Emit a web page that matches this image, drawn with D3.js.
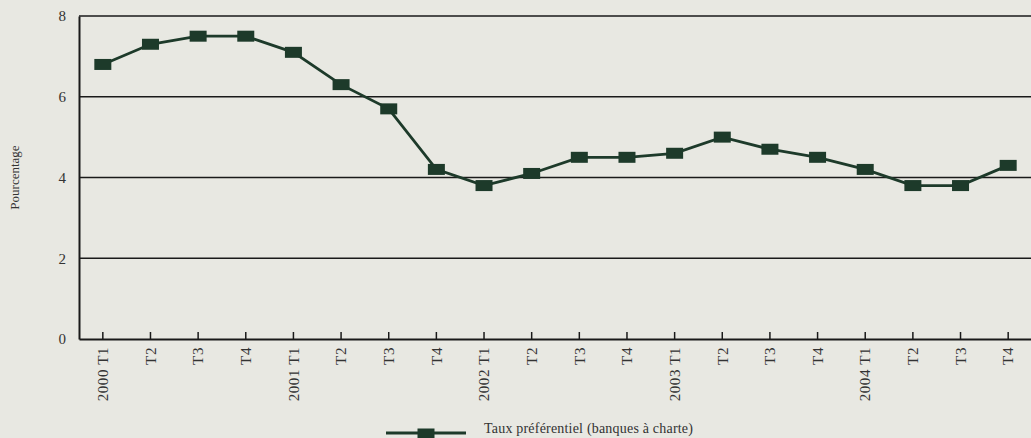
<!DOCTYPE html>
<html><head><meta charset="utf-8">
<script src="https://cdn.jsdelivr.net/npm/d3@7"></script>
<style>
html,body{margin:0;padding:0;background:#e8e8e2;}
svg{display:block;}
</style></head>
<body>
<svg id="chart" width="1031" height="438"></svg>
<script>
const categories = ["2000 T1","T2","T3","T4","2001 T1","T2","T3","T4","2002 T1","T2","T3","T4","2003 T1","T2","T3","T4","2004 T1","T2","T3","T4"];
const values = [6.8,7.3,7.5,7.5,7.1,6.3,5.7,4.2,3.8,4.1,4.5,4.5,4.6,5.0,4.7,4.5,4.2,3.8,3.8,4.3];
const yTicks = [0,2,4,6,8];
const seriesName = "Taux préférentiel (banques à charte)";
const yTitle = "Pourcentage";

const svg = d3.select("#chart");
const W = 1031, H = 438;
const m = {left:79, right:-1, top:16, bottom:99};
const color = "#1d3a2a";
const font = "'Liberation Serif', 'DejaVu Serif', serif";

svg.append("rect").attr("width",W).attr("height",H).attr("fill","#e8e8e2");

const idx = categories.map((d,i)=>i);
const x = d3.scaleBand().domain(idx).range([m.left, W - m.right]);
const y = d3.scaleLinear().domain([0,8]).range([H - m.bottom, m.top]);
const cx = i => x(i) + x.bandwidth()/2;

// gridlines
svg.append("g").selectAll("line").data(yTicks.filter(d=>d>0)).join("line")
  .attr("x1", m.left).attr("x2", W)
  .attr("y1", d=>y(d)).attr("y2", d=>y(d))
  .attr("stroke","#1a1a1a").attr("stroke-width",1.6);

// y axis
const yAxis = d3.axisLeft(y).tickValues(yTicks).tickSize(0).tickPadding(13).tickFormat(d3.format("d"));
const gy = svg.append("g").attr("transform",`translate(${m.left},0)`).call(yAxis);
gy.select(".domain").attr("stroke","#1a1a1a").attr("stroke-width",2);
gy.selectAll("text").attr("font-family",font).attr("font-size",15).attr("fill","#333");

// x axis
const xAxis = d3.axisBottom(x).tickFormat(i=>categories[i]).tickSizeInner(-7).tickSizeOuter(0).tickPadding(8);
const gx = svg.append("g").attr("transform",`translate(0,${y(0)})`).call(xAxis);
gx.select(".domain").attr("stroke","#1a1a1a").attr("stroke-width",2);
gx.selectAll(".tick line").attr("stroke","#1a1a1a").attr("stroke-width",1.5);
gx.selectAll("text")
  .attr("font-family",font).attr("font-size",15).attr("fill","#333")
  .attr("letter-spacing","0.6px")
  .attr("transform","rotate(-90)")
  .attr("text-anchor","end")
  .attr("x",-8).attr("y",0).attr("dy","0.35em");

// y title
svg.append("text").attr("transform",`translate(19,${y(4)}) rotate(-90)`)
  .attr("text-anchor","middle").attr("font-family",font).attr("font-size",13).attr("fill","#333")
  .text(yTitle);

// line
const line = d3.line().x((d,i)=>cx(i)).y(d=>y(d));
svg.append("path").datum(values).attr("d",line)
  .attr("fill","none").attr("stroke",color).attr("stroke-width",2.8);

const mw = 17, mh = 11;
svg.append("g").selectAll("rect").data(values).join("rect")
  .attr("x",(d,i)=>cx(i)-mw/2).attr("y",d=>y(d)-mh/2)
  .attr("width",mw).attr("height",mh).attr("fill",color);

// legend
const lg = svg.append("g");
lg.append("line").attr("x1",386).attr("x2",466).attr("y1",433).attr("y2",433)
  .attr("stroke",color).attr("stroke-width",2.8);
lg.append("rect").attr("x",426-mw/2).attr("y",433-mh/2+1).attr("width",mw).attr("height",mh).attr("fill",color);
lg.append("text").attr("x",484).attr("y",433).attr("font-family",font).attr("font-size",14).attr("fill","#333")
  .attr("letter-spacing","0.2px")
  .text(seriesName);
</script>
</body></html>
